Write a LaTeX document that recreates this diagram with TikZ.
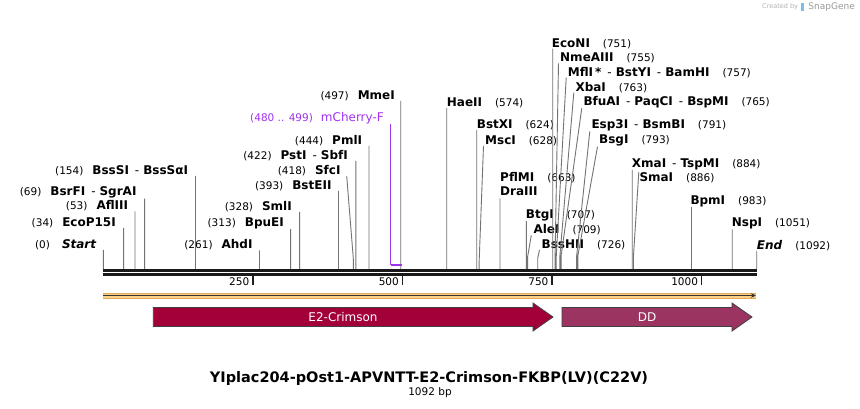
\documentclass[tikz,border=0pt]{standalone}
\usepackage{fontspec}
\setmainfont{DejaVu Sans}
\usetikzlibrary{arrows.meta,positioning,calc}

\definecolor{crimson}{RGB}{163,0,58}
\definecolor{ddpurple}{RGB}{155,52,97}
\definecolor{primer}{RGB}{160,50,240}
\definecolor{orangefill}{RGB}{250,208,135}
\definecolor{orangeedge}{RGB}{228,170,90}
\definecolor{cutgray}{RGB}{115,115,115}
\definecolor{logoblue}{RGB}{120,190,235}

\newcommand{\cutpos}[1]{{\mdseries\fontsize{10.5}{12}\selectfont(#1)}}
\newcommand{\sepmark}{{\mdseries\hspace{6pt}-\hspace{4pt}}}
\newcommand{\bpx}[1]{103.3+#1*0.5984}

\begin{document}
\begin{tikzpicture}[x=1pt,y=-1pt]

    \tikzstyle{lab} = [inner sep=0pt, font=\fontsize{12}{14}\selectfont\bfseries]
    \tikzstyle{leftlab} = [lab, anchor=base east]
    \tikzstyle{rightlab} = [lab, anchor=base west]
    \tikzstyle{cutline} = [draw=cutgray, line width=0.9pt]
    \tikzstyle{ticklab} = [inner sep=0pt, anchor=east, font=\fontsize{10.5}{12}\selectfont]
    \tikzstyle{feature} = [draw=black!75, line width=0.8pt]
    \tikzstyle{featlab} = [text=white, font=\fontsize{12}{14}\selectfont]

    \fill[white] (0,0) rectangle (860,408);
    \useasboundingbox (0,0) rectangle (860,408);

    % cut sites
    \coordinate (c0)    at ({\bpx{0}},269);
    \coordinate (c34)   at ({\bpx{34}},269);
    \coordinate (c53)   at ({\bpx{53}},269);
    \coordinate (c69)   at ({\bpx{69}},269);
    \coordinate (c154)  at ({\bpx{154}},269);
    \coordinate (c261)  at ({\bpx{261}},269);
    \coordinate (c313)  at ({\bpx{313}},269);
    \coordinate (c328)  at ({\bpx{328}},269);
    \coordinate (c393)  at ({\bpx{393}},269);
    \coordinate (c418)  at ({\bpx{418}},269);
    \coordinate (c422)  at ({\bpx{422}},269);
    \coordinate (c444)  at ({\bpx{444}},269);
    \coordinate (c480)  at ({\bpx{480}},265);
    \coordinate (c499)  at ({\bpx{499}},265);
    \coordinate (c497)  at ({\bpx{497}},269);
    \coordinate (c574)  at ({\bpx{574}},269);
    \coordinate (c624)  at ({\bpx{624}},269);
    \coordinate (c628)  at ({\bpx{628}},269);
    \coordinate (c663)  at ({\bpx{663}},269);
    \coordinate (c707)  at ({\bpx{707}},269);
    \coordinate (c709)  at ({\bpx{709}},269);
    \coordinate (c726)  at ({\bpx{726}},269);
    \coordinate (c751)  at ({\bpx{751}},269);
    \coordinate (c755)  at ({\bpx{755}},269);
    \coordinate (c757)  at ({\bpx{757}},269);
    \coordinate (c763)  at ({\bpx{763}},269);
    \coordinate (c765)  at ({\bpx{765}},269);
    \coordinate (c791)  at ({\bpx{791}},269);
    \coordinate (c793)  at ({\bpx{793}},269);
    \coordinate (c884)  at ({\bpx{884}},269);
    \coordinate (c886)  at ({\bpx{886}},269);
    \coordinate (c983)  at ({\bpx{983}},269);
    \coordinate (c1051) at ({\bpx{1051}},269);
    \coordinate (c1092) at ({\bpx{1092}},269);

    % labels left of their cut
    \node[leftlab] (start) at (96.7,248.4) {\cutpos{0}\hspace{12pt}\textit{Start}};
    \node[leftlab] (ecop)  at (116,226.4)  {\cutpos{34}\hspace{9pt}EcoP15I};
    \node[leftlab] (afl)   at (128.3,209.9) {\cutpos{53}\hspace{9pt}AflIII};
    \node[leftlab] (bsrf)  at (136.7,195.9) {\cutpos{69}\hspace{9pt}BsrFI\sepmark SgrAI};
    \node[leftlab] (bsss)  at (188.3,174.4) {\cutpos{154}\hspace{9pt}BssSI\sepmark BssSαI};
    \node[leftlab] (ahd)   at (252.7,248.9) {\cutpos{261}\hspace{9pt}AhdI};
    \node[leftlab] (bpue)  at (284,226.4)  {\cutpos{313}\hspace{9pt}BpuEI};
    \node[leftlab] (sml)   at (292,210.4)  {\cutpos{328}\hspace{9pt}SmlI};
    \node[leftlab] (bste)  at (331.7,189.4) {\cutpos{393}\hspace{9pt}BstEII};
    \node[leftlab] (sfc)   at (340.7,174.4) {\cutpos{418}\hspace{9pt}SfcI};
    \node[leftlab] (pst)   at (348,159.4)  {\cutpos{422}\hspace{9pt}PstI\sepmark SbfI};
    \node[leftlab] (pml)   at (362.3,144.4) {\cutpos{444}\hspace{9pt}PmlI};
    \node[leftlab, text=primer, font=\fontsize{12}{14}\selectfont] (mcherry) at (384,121.7)
        {\cutpos{480 .. 499}\hspace{8pt}mCherry-F};
    \node[leftlab] (mme)   at (395,99.4)   {\cutpos{497}\hspace{9pt}MmeI};

    % labels right of their cut
    \node[rightlab] (hae)  at (446.7,106.4) {HaeII\hspace{13pt}\cutpos{574}};
    \node[rightlab] (bstx) at (476.7,128.4) {BstXI\hspace{13pt}\cutpos{624}};
    \node[rightlab] (msc)  at (485,144.4)   {MscI\hspace{13pt}\cutpos{628}};
    \node[rightlab] (pfl)  at (500,181.7)   {PflMI\hspace{13pt}\cutpos{663}};
    \node[rightlab] (dra)  at (500,195.9)   {DraIII};
    \node[rightlab] (btg)  at (525.7,218.4) {BtgI\hspace{13pt}\cutpos{707}};
    \node[rightlab] (ale)  at (533.3,233.7) {AleI\hspace{13pt}\cutpos{709}};
    \node[rightlab] (bssh) at (541.5,248.4) {BssHII\hspace{13pt}\cutpos{726}};
    \node[rightlab] (econ) at (551.7,47.1)  {EcoNI\hspace{13pt}\cutpos{751}};
    \node[rightlab] (nme)  at (560,61.7)    {NmeAIII\hspace{13pt}\cutpos{755}};
    \node[rightlab] (mfl)  at (567.7,76.1)  {MflI\,*\sepmark BstYI\sepmark BamHI\hspace{13pt}\cutpos{757}};
    \node[rightlab] (xba)  at (575.3,91.1)  {XbaI\hspace{13pt}\cutpos{763}};
    \node[rightlab] (bfua) at (583.3,105.4) {BfuAI\sepmark PaqCI\sepmark BspMI\hspace{13pt}\cutpos{765}};
    \node[rightlab] (esp)  at (591.3,128.7) {Esp3I\sepmark BsmBI\hspace{13pt}\cutpos{791}};
    \node[rightlab] (bsg)  at (599,143.9)   {BsgI\hspace{13pt}\cutpos{793}};
    \node[rightlab] (xma)  at (631.7,167.1) {XmaI\sepmark TspMI\hspace{13pt}\cutpos{884}};
    \node[rightlab] (sma)  at (639.3,181.1) {SmaI\hspace{13pt}\cutpos{886}};
    \node[rightlab] (bpm)  at (690.3,204.4) {BpmI\hspace{13pt}\cutpos{983}};
    \node[rightlab] (nsp)  at (731.7,226.7) {NspI\hspace{13pt}\cutpos{1051}};
    \node[rightlab] (finish) at (756.7,249.4) {\textit{End}\hspace{13pt}\cutpos{1092}};

    % cut lines
    \draw[cutline]
        (c0) -- (c0 |- start.south)
        (c34) -- (c34 |- ecop.south)
        (c53) -- (c53 |- afl.south)
        (c69) -- (c69 |- bsrf.south)
        (c154) -- (c154 |- bsss.south)
        (c261) -- (c261 |- ahd.south)
        (c313) -- (c313 |- bpue.south)
        (c328) -- (c328 |- sml.south)
        (c393) -- (c393 |- bste.south)
        (c418) -- ++(0,-9) -- ([xshift=6pt]sfc.south east)
        (c422) -- (c422 |- pst.south)
        (c444) -- (c444 |- pml.south)
        (c497) -- (c497 |- mme.south)
        (c574) -- (c574 |- hae.south)
        (c624) -- (c624 |- bstx.south)
        (c628) -- ++(0,-6) -- ([xshift=-1.5pt]msc.south west)
        (c663) -- ([yshift=-2pt]c663 |- dra.south)
        (c707) -- (c707 |- btg.south)
        (c709) -- ++(0,-12) -- ([xshift=-2pt]ale.south west)
        (c726) -- ++(0,-11) -- ([xshift=-2pt]bssh.south west)
        (c751) -- (c751 |- econ.south)
        (c755) -- ++(0,-13) -- ([xshift=-1.5pt]nme.south west)
        (c757) -- ++(0,-13) -- ([xshift=-1.5pt]mfl.south west)
        (c763) -- ++(0,-13) -- ([xshift=-1.5pt]xba.south west)
        (c765) -- ++(0,-13) -- ([xshift=-1.5pt]bfua.south west)
        (c791) -- ++(0,-13) -- ([xshift=-1.5pt]esp.south west)
        (c793) -- ++(0,-13) -- ([xshift=-1.5pt]bsg.south west)
        (c884) -- (c884 |- xma.south)
        (c886) -- ++(0,-13) -- ([xshift=-0.5pt]sma.north west)
        (c983) -- (c983 |- bpm.south)
        (c1051) -- (c1051 |- nsp.south)
        (c1092) -- (c1092 |- finish.south);

    % primer
    \draw[primer, line width=0.9pt] (c480) -- (c480 |- mcherry.south);
    \draw[primer, line width=2pt] (c480) -- (c499);

    % backbone
    \coordinate (bbl) at (103.3,270.3);
    \coordinate (bbr) at (756.7,270.3);
    \draw[line width=2.8pt, black!90] (bbl) -- (bbr);
    \draw[line width=2.8pt, black!90] ([yshift=-3.9pt]bbl) -- ([yshift=-3.9pt]bbr);

    % ticks
    \coordinate (t250)  at ({\bpx{250}},275.5);
    \coordinate (t500)  at ({\bpx{500}},275.5);
    \coordinate (t750)  at ({\bpx{750}},275.5);
    \coordinate (t1000) at ({\bpx{1000}},275.5);
    \draw[line width=1.5pt, black!88]
        (t250) -- ++(0,9) (t500) -- ++(0,9) (t750) -- ++(0,9) (t1000) -- ++(0,9);
    \node[ticklab] (l250)  at ({\bpx{250}-3.5},282)  {250};
    \node[ticklab] (l500)  at ({\bpx{500}-3.5},282)  {500};
    \node[ticklab] (l750)  at ({\bpx{750}-3.5},282)  {750};
    \node[ticklab] (l1000) at ({\bpx{1000}-3.5},282) {1000};

    % orange strand
    \coordinate (ostart) at (103.3,295.5);
    \coordinate (oend)   at (756,295.5);
    \draw[orangeedge, line width=6pt] (ostart) -- (oend);
    \draw[orangefill, line width=4pt] (ostart) -- (oend);
    \draw[black!80, line width=1.2pt, -{Stealth[length=5pt,width=4.5pt]}] (ostart) -- (oend);

    % features
    \draw[feature, fill=crimson] (153.3,307.5) -- (533,307.5) -- (533,303) -- (553,317)
        -- (533,331) -- (533,326.5) -- (153.3,326.5) -- cycle;
    \node[featlab] (e2crimson) at (343,317) {E2-Crimson};
    \draw[feature, fill=ddpurple] (562,307.5) -- (732,307.5) -- (732,303) -- (752,317)
        -- (732,331) -- (732,326.5) -- (562,326.5) -- cycle;
    \node[featlab] (dd) at (647,317) {DD};

    % title
    \node[font=\fontsize{14.5}{16}\selectfont\bfseries] (title) at (429,378)
        {YIplac204-pOst1-APVNTT-E2-Crimson-FKBP(LV)(C22V)};
    \node[font=\fontsize{10.5}{12}\selectfont] (size) at (430,392.5) {1092 bp};

    % watermark
    \node[anchor=east, inner sep=0pt, text=black!40, font=\fontsize{9}{10}\selectfont] (snapgene) at (855,7) {SnapGene};
    \fill[logoblue] ([xshift=-7pt]snapgene.south west) rectangle ([xshift=-4pt]snapgene.north west);
    \node[anchor=east, inner sep=0pt, text=black!30, font=\fontsize{6.5}{8}\selectfont] (createdby)
        at ([xshift=-10pt]snapgene.west) {Created by};

\end{tikzpicture}
\end{document}
